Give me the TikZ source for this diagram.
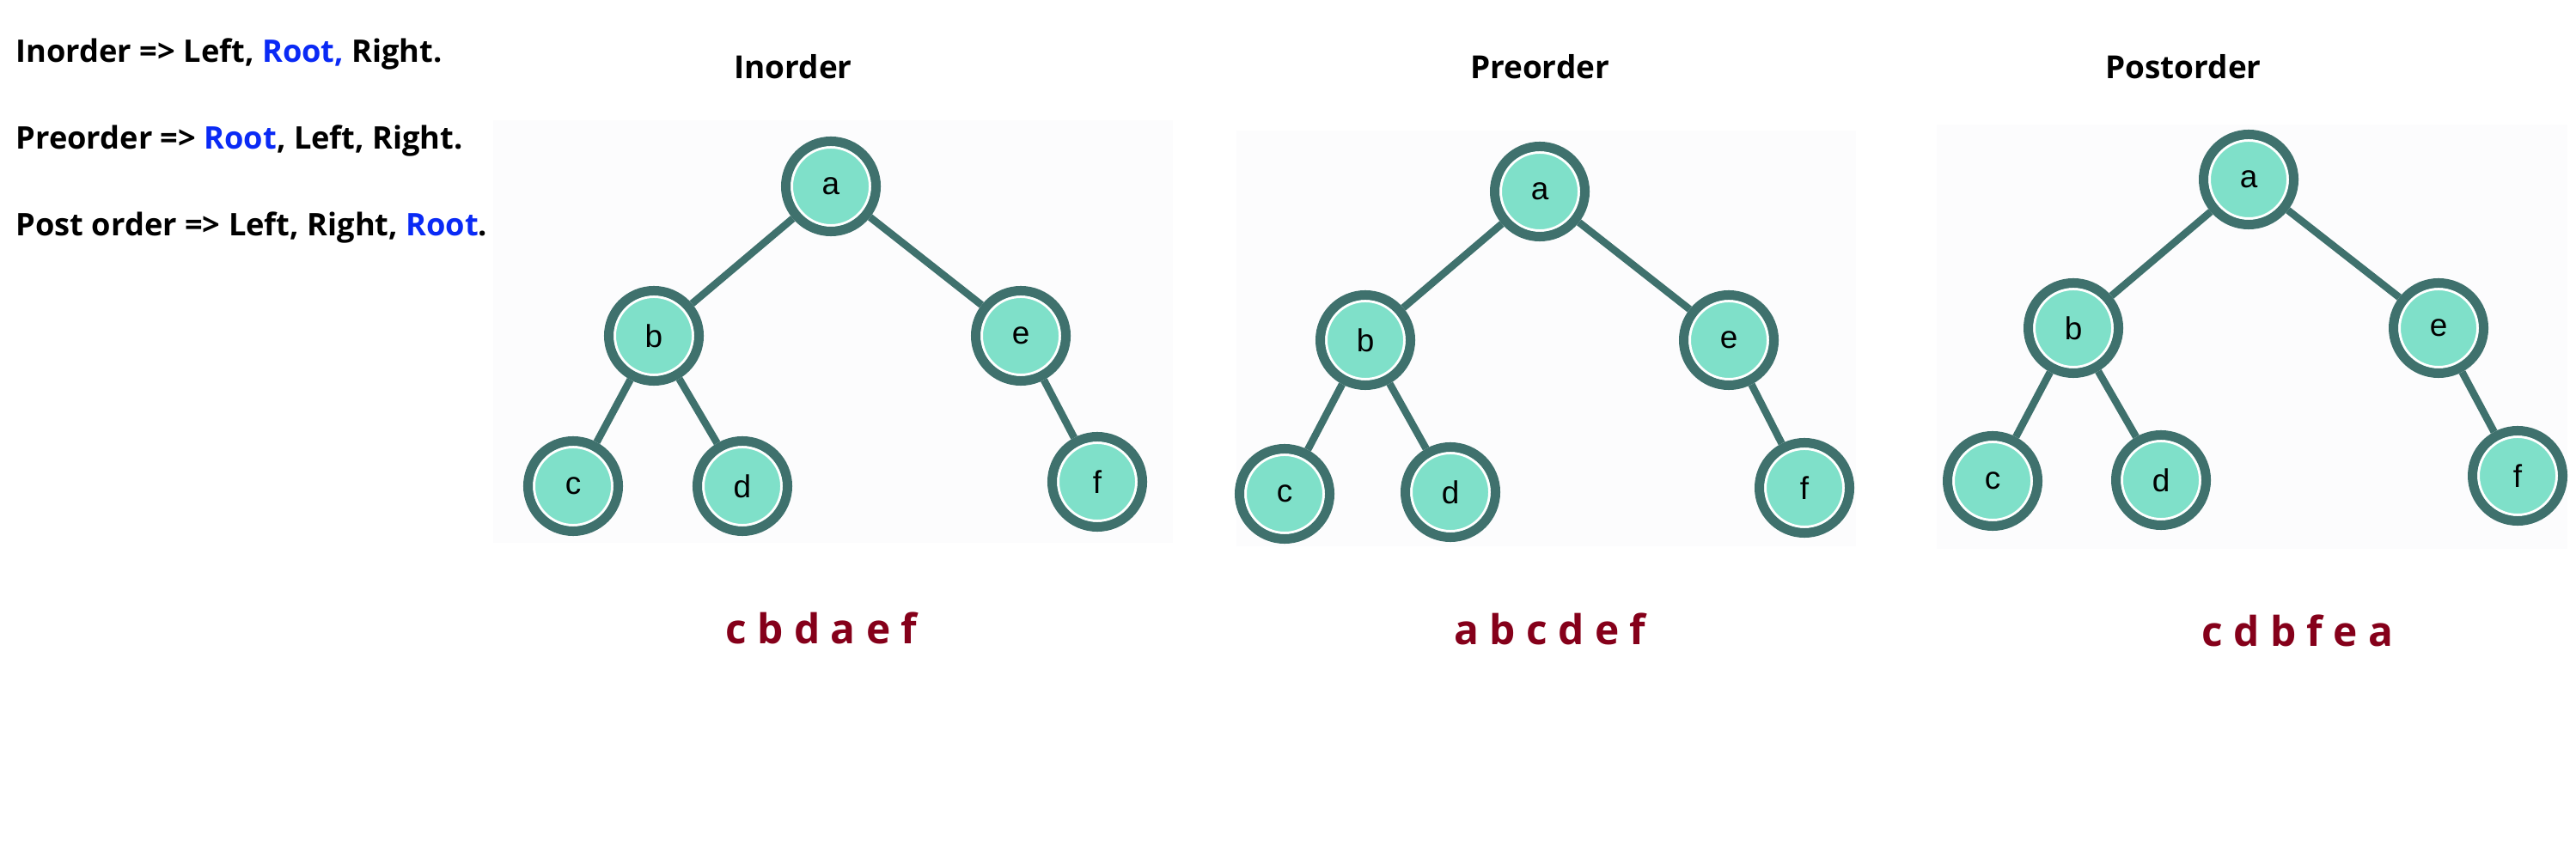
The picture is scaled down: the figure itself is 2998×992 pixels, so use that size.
\documentclass[tikz,border=0pt]{standalone}
\usepackage{fontspec}
\setmainfont{Open Sans}
\newfontfamily\letterfont{Liberation Sans}
\definecolor{ringcol}{HTML}{3F716D}
\definecolor{nodefill}{HTML}{7FE0C9}
\definecolor{treebg}{HTML}{FCFCFD}
\definecolor{rootblue}{HTML}{0A2AF5}
\definecolor{resultred}{HTML}{85001A}
\tikzset{
  tnode/.style={circle, draw=ringcol, line width=0.11cm, fill=nodefill, minimum size=1.05cm, inner sep=0pt,
    font=\letterfont\fontsize{10.5}{11}\selectfont,
    path picture={\draw[white, line width=0.03cm] (path picture bounding box.center) circle (0.455cm);}},
  tedge/.style={draw=ringcol, line width=0.085cm},
  ruletext/.style={anchor=base west, inner sep=0pt, font=\bfseries\fontsize{10.3}{12}\selectfont},
  ordertitle/.style={anchor=base, font=\bfseries\fontsize{10.5}{12}\selectfont},
  result/.style={anchor=base, text=resultred, font=\bfseries\fontsize{13.6}{15}\selectfont}
}
\begin{document}
\begin{tikzpicture}[x=0.01cm, y=-0.01cm]
      \useasboundingbox[fill=white] (0,0) rectangle (2998,992);
      \fill[treebg] (574,140) rectangle (1365,632);
      \fill[treebg] (1439,152) rectangle (2160,636);
      \fill[treebg] (2254,145) rectangle (2988,639);
      % rules
      \node[ruletext] (inrule) at (18,73) {Inorder => Left, \textcolor{rootblue}{Root,} Right.};
      \node[ruletext] (prerule) at (18,174) {Preorder => \textcolor{rootblue}{Root}, Left, Right.};
      \node[ruletext] (postrule) at (18,275) {Post order => Left, Right, \textcolor{rootblue}{Root}.};
      % inorder tree
      \node[ordertitle] (intitle) at (923,92) {Inorder};
      \node[tnode] (a1) at (967,217) {a};
      \node[tnode] (b1) at (761,391) {b};
      \node[tnode] (e1) at (1188,391) {e};
      \node[tnode] (c1) at (667,566) {c};
      \node[tnode] (d1) at (864,566) {d};
      \node[tnode] (f1) at (1277,561) {f};
      \draw[tedge] (a1) -- (b1) (a1) -- (e1) (b1) -- (c1) (b1) -- (d1) (e1) -- (f1);
      \node[result] (inres) at (956,749) {c b d a e f};
      % preorder tree
      \node[ordertitle] (pretitle) at (1792,92) {Preorder};
      \node[tnode] (a2) at (1792,223) {a};
      \node[tnode] (b2) at (1589,396) {b};
      \node[tnode] (e2) at (2012,396) {e};
      \node[tnode] (c2) at (1495,575) {c};
      \node[tnode] (d2) at (1688,573) {d};
      \node[tnode] (f2) at (2100,568) {f};
      \draw[tedge] (a2) -- (b2) (a2) -- (e2) (b2) -- (c2) (b2) -- (d2) (e2) -- (f2);
      \node[result] (preres) at (1804,751) {a b c d e f};
      % postorder tree
      \node[ordertitle] (posttitle) at (2541,92) {Postorder};
      \node[tnode] (a3) at (2617,209) {a};
      \node[tnode] (b3) at (2413,382) {b};
      \node[tnode] (e3) at (2838,382) {e};
      \node[tnode] (c3) at (2319,560) {c};
      \node[tnode] (d3) at (2515,559) {d};
      \node[tnode] (f3) at (2930,554) {f};
      \draw[tedge] (a3) -- (b3) (a3) -- (e3) (b3) -- (c3) (b3) -- (d3) (e3) -- (f3);
      \node[result] (postres) at (2674,753) {c d b f e a};
\end{tikzpicture}
\end{document}
